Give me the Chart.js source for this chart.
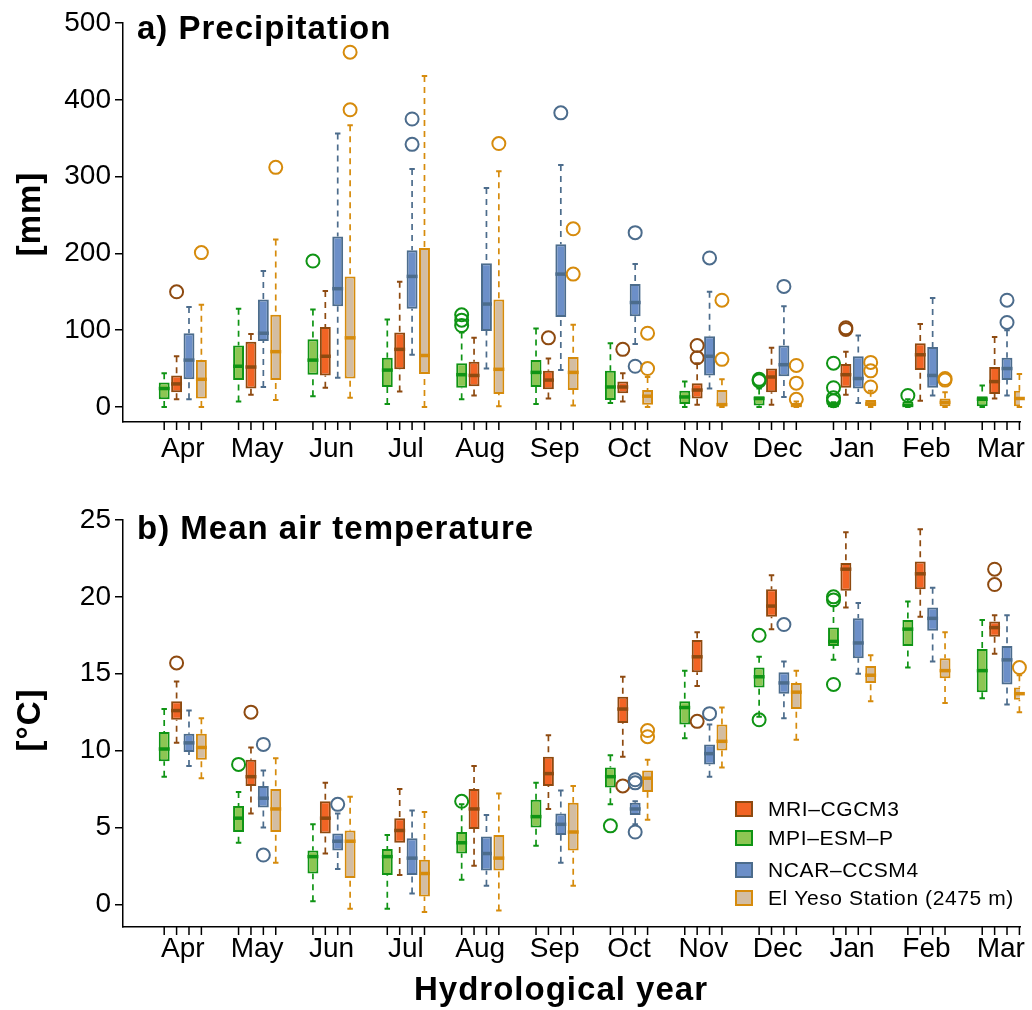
<!DOCTYPE html>
<html>
<head>
<meta charset="utf-8">
<script src="https://cdn.jsdelivr.net/npm/chart.js@4.4.1/dist/chart.umd.min.js"></script>
<style>
  html, body { margin: 0; padding: 0; background: #fff; width: 1032px; height: 1010px; overflow: hidden; }
  #wrap { position: relative; width: 1032px; height: 1010px; }
  canvas { position: absolute; left: 0; }
  #cPrec { top: 0; }
  #cTemp { top: 470px; }
</style>
</head>
<body>
<div id="wrap">
  <canvas id="cPrec" width="1032" height="470"></canvas>
  <canvas id="cTemp" width="1032" height="540"></canvas>
</div>
<script>
// Months of the hydrological year (April to March)
const months = ['Apr', 'May', 'Jun', 'Jul', 'Aug', 'Sep', 'Oct', 'Nov', 'Dec', 'Jan', 'Feb', 'Mar'];

// Series, in the order the boxes sit inside each month
const seriesNames = ['MPI\u2013ESM\u2013P', 'MRI\u2013CGCM3', 'NCAR\u2013CCSM4', 'El Yeso Station (2475 m)'];
// Order of the legend rows (indices into seriesNames)
const legendOrder = [1, 0, 2, 3];

// Monthly precipitation [mm]: per month [lower whisker, Q1, median, Q3, upper whisker]
const precipMPI = [[0,10,24,32,44],[7,35,53,80,128],[14,42,61,88,127],[4,26,48,64,114],[10,25,42,57,97],[4,26,45,61,102],[5,9,26,47,83],[0,4,13,21,33],[0,2,11,14,24],[0,0,2,5,6],[0,0,2,7,10],[0,1,10,14,28]];
const precipMRI = [[10,19,30,41,66],[16,24,52,85,95],[25,41,66,104,151],[20,49,75,97,163],[15,27,41,59,90],[11,23,35,47,63],[7,18,26,33,44],[3,11,22,31,57],[3,19,39,50,77],[16,25,42,56,72],[8,48,68,83,108],[11,17,33,52,91]];
const precipNCAR = [[10,36,61,96,130],[26,86,96,140,177],[38,131,154,222,356],[68,128,170,204,310],[50,99,134,187,285],[48,117,173,212,315],[82,118,136,160,186],[24,41,66,92,150],[13,40,55,80,131],[5,24,37,66,93],[15,25,41,78,142],[15,35,50,64,100]];
const precipYeso = [[0,11,36,61,133],[9,35,72,120,218],[12,37,90,170,367],[0,43,67,207,431],[1,17,49,140,307],[2,22,45,65,107],[0,3,14,22,39],[0,1,3,22,36],[0,1,2,5,7],[0,0,4,9,21],[0,0,6,11,19],[0,0,11,21,43]];

// Precipitation outliers per month
const precipMPIOut = [[],[],[190],[],[106,113,120],[],[],[],[34,36],[8,12,25,57],[15],[]];
const precipMRIOut = [[150],[],[],[],[],[90],[75],[64,80],[],[101,103],[],[]];
const precipNCAROut = [[],[],[],[342,375],[],[383],[53,227],[194],[157],[],[],[110,139]];
const precipYesoOut = [[201],[312],[387,462],[],[343],[173,232],[50,96],[62,139],[10,31,54],[26,47,58],[35,37],[]];

// Monthly mean air temperature [°C]: per month [lower whisker, Q1, median, Q3, upper whisker]
const tempMPI = [[8.3,9.3,10.1,11.2,12.7],[4.0,4.7,5.6,6.4,7.3],[0.2,2.0,3.1,3.5,5.2],[-0.3,1.9,3.1,3.6,4.5],[1.6,3.3,4.0,4.7,6.5],[3.8,5.0,5.7,6.8,7.9],[6.5,7.6,8.3,8.9,9.7],[10.8,11.7,12.8,13.2,15.2],[12.2,14.1,14.8,15.4,16.1],[15.9,16.8,17.1,18.0,19.4],[15.4,16.8,17.9,18.5,19.7],[13.4,13.8,15.2,16.6,18.5]];
const tempMRI = [[10.5,12.0,12.6,13.2,14.5],[5.9,7.7,8.3,9.4,10.2],[3.3,4.6,5.6,6.7,7.9],[1.9,4.0,4.8,5.6,7.5],[2.5,4.9,6.2,7.5,9.0],[6.2,7.7,8.5,9.6,11.0],[9.6,11.8,12.7,13.5,14.8],[14.2,15.1,16.1,17.2,17.7],[17.9,18.7,19.4,20.5,21.4],[19.3,20.4,21.8,22.2,24.2],[18.7,20.5,21.5,22.3,24.4],[16.3,17.4,18.0,18.4,18.8]];
const tempNCAR = [[9.0,9.9,10.5,11.1,12.6],[5.0,6.3,6.9,7.7,8.7],[2.3,3.5,4.1,4.6,5.9],[0.7,1.9,3.0,4.3,6.1],[1.2,2.2,3.3,4.4,5.8],[2.7,4.5,5.2,5.9,7.4],[5.2,5.8,6.2,6.6,6.7],[8.3,9.1,9.8,10.4,11.7],[12.1,13.7,14.4,15.1,15.8],[15.0,16.0,17.0,18.6,19.6],[15.8,17.8,18.6,19.3,20.6],[13.0,14.3,15.9,16.8,18.8]];
const tempYeso = [[8.2,9.4,10.2,11.1,12.1],[2.7,4.7,6.2,7.5,9.5],[-0.3,1.7,4.1,4.8,7.0],[-0.5,0.5,2.0,2.9,6.0],[-0.4,2.2,3.0,4.5,7.2],[1.2,3.5,4.7,6.6,7.7],[5.5,7.3,8.2,8.7,9.4],[8.9,10.0,10.6,11.7,12.8],[10.7,12.7,13.8,14.4,15.2],[13.2,14.4,14.9,15.5,16.2],[13.1,14.7,15.2,16.0,17.7],[12.5,13.3,13.7,14.1,14.9]];

// Temperature outliers per month
const tempMPIOut = [[],[9.1],[],[],[6.7],[],[5.1],[],[12.0,17.5],[14.3,19.8,20.0],[],[]];
const tempMRIOut = [[15.7],[12.5],[],[],[],[],[7.7],[11.9],[],[],[],[20.8,21.8]];
const tempNCAROut = [[],[3.2,10.4],[6.5],[],[],[],[4.7,7.9,8.1],[12.4],[18.2],[],[],[]];
const tempYesoOut = [[],[],[],[],[],[],[10.9,11.3],[],[],[],[],[15.4]];

// Axis tick values
const precipTicks = [0, 100, 200, 300, 400, 500];
const tempTicks = [0, 5, 10, 15, 20, 25];

// Fill and outline colours per series (same order as seriesNames)
const fills = ['#8dc653', '#f26424', '#6c8fc8', '#d3bda2'];
const lines = ['#0f9414', '#8e4a10', '#4c6c8c', '#d68b0c'];

const FONT = "'Liberation Sans', Arial, Helvetica, sans-serif";
Chart.defaults.font.family = FONT;
Chart.defaults.color = '#000';

function makeDatasets(statsList, outList) {
  return statsList.map((stats, s) => ({
    label: seriesNames[s],
    data: stats.map((b, i) => ({ x: i, y: [b[1], b[3]] })),
    stats: stats,
    outliers: outList[s],
    backgroundColor: fills[s],
    borderColor: lines[s],
    borderWidth: 2,
    borderSkipped: false,
    categoryPercentage: 2 / 3,
    barPercentage: 0.88
  }));
}

function boldText(ctx, text, x, y, align, rotate) {
  ctx.save();
  ctx.font = 'bold 33px ' + FONT;
  ctx.letterSpacing = '1px';
  ctx.fillStyle = '#000';
  ctx.textAlign = align;
  ctx.textBaseline = 'alphabetic';
  ctx.translate(x, y);
  if (rotate) ctx.rotate(-Math.PI / 2);
  ctx.fillText(text, 0, 0);
  ctx.restore();
}

// Whiskers, staples, medians and outliers around the floating-bar boxes
const boxParts = {
  id: 'boxParts',
  beforeDatasetsDraw(chart) {
    const { ctx } = chart;
    const ys = chart.scales.y;
    chart.data.datasets.forEach((ds, d) => {
      const meta = chart.getDatasetMeta(d);
      meta.data.forEach((bar, i) => {
        const [lo, q1, , q3, hi] = ds.stats[i];
        const x = bar.x;
        const cap = bar.width * 0.25;
        ctx.save();
        ctx.strokeStyle = ds.borderColor;
        ctx.lineWidth = 1.7;
        ctx.setLineDash([6, 5]);
        ctx.beginPath();
        ctx.moveTo(x, ys.getPixelForValue(hi));
        ctx.lineTo(x, ys.getPixelForValue(q3));
        ctx.moveTo(x, ys.getPixelForValue(lo));
        ctx.lineTo(x, ys.getPixelForValue(q1));
        ctx.stroke();
        ctx.setLineDash([]);
        ctx.lineWidth = 2;
        ctx.beginPath();
        ctx.moveTo(x - cap, ys.getPixelForValue(hi));
        ctx.lineTo(x + cap, ys.getPixelForValue(hi));
        ctx.moveTo(x - cap, ys.getPixelForValue(lo));
        ctx.lineTo(x + cap, ys.getPixelForValue(lo));
        ctx.stroke();
        ctx.restore();
      });
    });
  },
  afterDatasetsDraw(chart) {
    const { ctx } = chart;
    const ys = chart.scales.y;
    chart.data.datasets.forEach((ds, d) => {
      const meta = chart.getDatasetMeta(d);
      meta.data.forEach((bar, i) => {
        const med = ds.stats[i][2];
        const x = bar.x, half = bar.width / 2;
        ctx.save();
        ctx.strokeStyle = ds.borderColor;
        ctx.lineWidth = 3.5;
        ctx.beginPath();
        ctx.moveTo(x - half, ys.getPixelForValue(med));
        ctx.lineTo(x + half, ys.getPixelForValue(med));
        ctx.stroke();
        ctx.lineWidth = 2;
        ds.outliers[i].forEach(v => {
          ctx.beginPath();
          ctx.arc(x, ys.getPixelForValue(v), 6.5, 0, Math.PI * 2);
          ctx.stroke();
        });
        ctx.restore();
      });
    });
  },
  afterDraw(chart) {
    const { ctx, chartArea } = chart;
    const deco = chart.options.plugins.panelDeco;
    // small tick marks under every box
    ctx.save();
    ctx.strokeStyle = '#000';
    ctx.lineWidth = 1.5;
    ctx.beginPath();
    chart.data.datasets.forEach((ds, d) => {
      chart.getDatasetMeta(d).data.forEach(bar => {
        ctx.moveTo(bar.x, chartArea.bottom);
        ctx.lineTo(bar.x, chartArea.bottom + 8);
      });
    });
    ctx.stroke();
    ctx.restore();
    // panel title, axis titles
    boldText(ctx, deco.title, chartArea.left + 14, deco.titleBaseline, 'left', false);
    boldText(ctx, deco.yTitle, deco.yTitleX, deco.yTitleY, 'center', true);
    if (deco.xTitle) boldText(ctx, deco.xTitle, deco.xTitleX, deco.xTitleBaseline, 'center', false);
    // legend
    if (deco.legend) {
      ctx.save();
      ctx.font = '21px ' + FONT;
      ctx.letterSpacing = '0.6px';
      ctx.textBaseline = 'middle';
      ctx.textAlign = 'left';
      deco.legend.rows.forEach((rowY, r) => {
        const ds = chart.data.datasets[legendOrder[r]];
        ctx.fillStyle = ds.borderColor;
        ctx.fillRect(deco.legend.x, rowY - 8, 18, 16);
        ctx.fillStyle = ds.backgroundColor;
        ctx.fillRect(deco.legend.x + 2, rowY - 6, 14, 12);
        ctx.fillStyle = '#000';
        ctx.fillText(ds.label, deco.legend.x + 33, rowY + 1);
      });
      ctx.restore();
    }
  }
};

function makeChart(id, statsList, outList, yMin, yMax, yTicks, opts) {
  return new Chart(document.getElementById(id), {
    type: 'bar',
    data: { datasets: makeDatasets(statsList, outList) },
    options: {
      responsive: false,
      animation: false,
      devicePixelRatio: 1,
      layout: { padding: { top: opts.top, right: 12, left: 0, bottom: 0 } },
      plugins: {
        legend: { display: false },
        tooltip: { enabled: false },
        panelDeco: opts.deco
      },
      scales: {
        x: {
          type: 'linear',
          offset: false,
          min: -0.804,
          max: 11.258,
          afterBuildTicks: s => { s.ticks = months.map((m, i) => ({ value: i })); },
          afterFit: s => { s.height = opts.xHeight; },
          ticks: {
            autoSkip: false, maxRotation: 0, padding: opts.xPad,
            font: { size: 28, lineHeight: 1 },
            callback: v => months[v]
          },
          grid: { display: false },
          border: { display: true, color: '#000', width: 1.5 }
        },
        y: {
          min: yMin, max: yMax,
          afterBuildTicks: s => { s.ticks = yTicks.map(v => ({ value: v })); },
          afterFit: s => { s.width = 123; },
          ticks: { font: { size: 28 }, padding: 4 },
          grid: { drawOnChartArea: false, drawTicks: true, tickLength: 8, color: '#000', lineWidth: 1.5 },
          border: { display: true, color: '#000', width: 1.5 }
        }
      }
    },
    plugins: [boxParts]
  });
}

makeChart('cPrec',
  [precipMPI, precipMRI, precipNCAR, precipYeso],
  [precipMPIOut, precipMRIOut, precipNCAROut, precipYesoOut],
  -19.6, 500, precipTicks,
  { top: 23, xHeight: 48, xPad: 5,
    deco: { title: 'a) Precipitation', titleBaseline: 39, yTitle: '[mm]', yTitleX: 40, yTitleY: 214 } });

makeChart('cTemp',
  [tempMPI, tempMRI, tempNCAR, tempYeso],
  [tempMPIOut, tempMRIOut, tempNCAROut, tempYesoOut],
  -1.48, 25, tempTicks,
  { top: 50, xHeight: 83, xPad: 0,
    deco: { title: 'b) Mean air temperature', titleBaseline: 69, yTitle: '[\u00B0C]', yTitleX: 40, yTitleY: 250,
      xTitle: 'Hydrological year', xTitleX: 561, xTitleBaseline: 530,
      legend: { x: 735, rows: [339, 368, 400, 428] } } });
</script>
</body>
</html>
